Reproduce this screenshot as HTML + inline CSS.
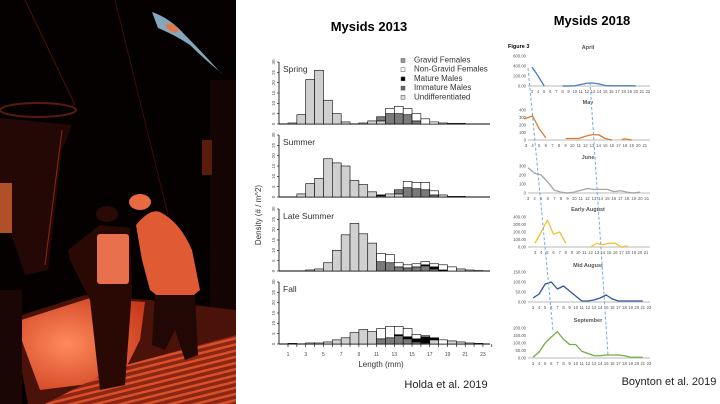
<!DOCTYPE html>
<html><head><meta charset="utf-8"><style>
html,body{margin:0;padding:0;background:#fff;}
svg{display:block;font-family:"Liberation Sans",sans-serif;}
</style></head><body>
<svg id="s" width="720" height="404" viewBox="0 0 720 404" xmlns="http://www.w3.org/2000/svg">
<defs>
<pattern id="grate" width="6" height="6" patternUnits="userSpaceOnUse" patternTransform="rotate(-14)">
<rect width="6" height="6" fill="#8a2612"/><rect width="6" height="2.5" fill="#d8502a"/>
</pattern>
<radialGradient id="glow" cx="0.4" cy="0.5" r="0.7"><stop offset="0" stop-color="#ff8a5c"/><stop offset="1" stop-color="#c8381a"/></radialGradient>
</defs>
<!-- photo -->
<rect x="0" y="0" width="236" height="404" fill="#050101"/>
<line x1="25" y1="0" x2="75" y2="105" stroke="#4a1208" stroke-width="1"/>
<line x1="115" y1="0" x2="168" y2="215" stroke="#3a0e06" stroke-width="1"/>
<rect x="210" y="80" width="26" height="260" fill="#140403"/>
<rect x="202" y="140" width="10" height="35" fill="#5a1a0c"/>
<ellipse cx="38" cy="110" rx="38" ry="7" fill="none" stroke="#5a1a0c" stroke-width="2"/>
<polygon points="0,118 72,125 62,150 48,270 25,275 0,200" fill="#240805"/>
<line x1="62" y1="130" x2="45" y2="265" stroke="#8a2a12" stroke-width="1"/>
<rect x="0" y="183" width="12" height="50" fill="#b05028"/>
<polygon points="12,318 85,295 150,300 236,310 236,404 28,404" fill="#4a1208"/>
<polygon points="15,322 90,298 145,302 140,340 120,380 40,390" fill="url(#glow)"/>
<polygon points="45,404 115,368 236,335 236,404" fill="url(#grate)"/>
<rect x="0" y="290" width="22" height="114" fill="#1a0604"/>
<!-- person 1 -->
<polygon points="68,250 100,225 130,228 132,290 125,385 100,390 90,300 70,260" fill="#2a0905"/>
<rect x="97" y="234" width="32" height="50" fill="#e8704c" rx="3"/>
<ellipse cx="107" cy="214" rx="11" ry="8" fill="#2a0a06"/>
<!-- person 2 -->
<path d="M136,225 Q150,208 160,212 Q180,222 192,250 L200,290 L190,298 L160,298 L150,290 L142,260 Z" fill="#e05a34"/>
<polygon points="155,295 195,295 198,355 185,360 175,330 165,350 152,345" fill="#220805"/>
<ellipse cx="140" cy="202" rx="11" ry="8" fill="#e86a40"/>
<!-- shrimp -->
<path d="M152,12 Q170,18 185,35 Q200,50 220,72 L224,75 Q205,60 190,45 Q175,35 158,28 Z" fill="#9cc4de" opacity="0.85"/>
<ellipse cx="172" cy="28" rx="7" ry="3.5" fill="#e07a4a" transform="rotate(30 172 28)"/>

<!-- titles -->
<text x="369" y="31" font-size="13" font-weight="bold" text-anchor="middle" fill="#000">Mysids 2013</text>
<text x="592" y="25" font-size="13" font-weight="bold" text-anchor="middle" fill="#000">Mysids 2018</text>
<text x="446" y="388" font-size="11" text-anchor="middle" fill="#222">Holda et al. 2019</text>
<text x="669" y="385" font-size="11" text-anchor="middle" fill="#222">Boynton et al. 2019</text>

<text transform="translate(261,215) rotate(-90)" font-size="8" text-anchor="middle" fill="#333">Density  (# / m^2)</text>
<text x="381" y="367" font-size="8" text-anchor="middle" fill="#333">Length (mm)</text>
<g id="hist"></g>
<g id="lines"></g>
</svg>
<script>
var NS="http://www.w3.org/2000/svg";
function el(p,t,a,txt){var e=document.createElementNS(NS,t);for(var k in a)e.setAttribute(k,a[k]);if(txt!==undefined)e.textContent=txt;p.appendChild(e);return e;}
var H=document.getElementById('hist');
var X0=288,W=8.86;function xm(m){return X0+(m-1)*W;}
var ppu=62/30;
var panels=[
{n:"Spring",b:124,d:{1:[0.5],2:[4.5],3:[21.5],4:[26],5:[11.5],6:[5],7:[1],9:[0.5],10:[1.5],11:[1.5,2,0,0],12:[0,5,0,2.5],13:[0,5,0,3.5],14:[0,4.5,0,3],15:[0,1.5,0,3.5],16:[0,0,0,2.5],17:[0,0,0,1],18:[0.5],19:[0.3],20:[0.3]}},
{n:"Summer",b:197,d:{2:[1.5],3:[6.5],4:[9],5:[18.5],6:[16.5],7:[15],8:[8],9:[6],10:[2.5],11:[0.5,0,0.5,0],12:[1.5],13:[1.5,2,0,0],14:[0,4.5,0,3],15:[0,4,0,3],16:[0,3.5,0,3.5],17:[0,1,0,2],18:[1],19:[0.3],20:[0.3]}},
{n:"Late Summer",b:271,d:{3:[0.5],4:[1],5:[4],6:[10],7:[17.5],8:[23],9:[18],10:[13.5],11:[0,4.5,0,4],12:[0,4,0,4],13:[0,2,0,2],14:[0,1.5,0,1.5],15:[0,2,0,1.5],16:[0,2.5,0.5,1.5],17:[0,1,1,1.5],18:[0,0,0.5,2.5],19:[0,0,0,2],20:[1],21:[0.5],22:[0.2]}},
{n:"Fall",b:344,d:{1:[0.3],3:[0.5],4:[0.5],5:[1],6:[2],7:[3],8:[5.5],9:[7],10:[6],11:[0,2.5,0,5],12:[0,3,0,5.5],13:[0,4,0.5,4],14:[0,2.5,1,4],15:[0,1,1.5,2],16:[0,0.5,3,0.5],17:[2,0,1,0],18:[0,0,0,2],19:[1.5],20:[1],21:[0.5],22:[0.3]}}
];
var cols=["#d0d0d0","#7a7a7a","#000","#fff"];
panels.forEach(function(p){
  el(H,'line',{x1:279,y1:p.b,x2:490,y2:p.b,stroke:"#000","stroke-width":1});
  el(H,'line',{x1:279,y1:p.b,x2:279,y2:p.b-62,stroke:"#000","stroke-width":0.8});
  for(var v=0;v<=30;v+=5){var y=p.b-v*ppu;el(H,'line',{x1:277,y1:y,x2:279,y2:y,stroke:"#000","stroke-width":0.6});
    el(H,'text',{transform:"translate(275,"+y+") rotate(-90)","font-size":4.5,"text-anchor":"middle",fill:"#555"},v);}
  el(H,'text',{x:283,y:p.b-52,"font-size":8.5,fill:"#333"},p.n);
  for(var k in p.d){var s=p.d[k],y=p.b;for(var i=0;i<s.length;i++){if(!s[i])continue;var h=s[i]*ppu;y-=h;
    el(H,'rect',{x:xm(+k),y:y,width:W,height:h,fill:cols[i],stroke:"#000","stroke-width":0.6});}}
});
for(var m=1;m<=24;m++){el(H,'line',{x1:xm(m),y1:344,x2:xm(m),y2:347,stroke:"#000","stroke-width":0.6});}
for(var m=1;m<=23;m+=2)el(H,'text',{x:xm(m),y:356,"font-size":5,"text-anchor":"middle",fill:"#444"},m);
var lg=["Gravid Females","Non-Gravid Females","Mature Males","Immature Males","Undifferentiated"],lc=["#999","#fff","#000","#666","#ddd"];
lg.forEach(function(t,i){var y=62+i*9.2;el(H,'rect',{x:401,y:y-3.5,width:4,height:4,fill:lc[i],stroke:"#555","stroke-width":0.5});
 el(H,'text',{x:414,y:y+0.5,"font-size":8,fill:"#333"},t);});
var L=document.getElementById('lines');
el(L,'text',{x:508,y:48,"font-size":5.5,"font-weight":"bold",fill:"#000"},"Figure 3");
var charts=[
{t:"April",ty:49,b:86,x3:532,dx:6.1,top:600,tpx:30,ticks:[0,200,400,600],lab:["0.00","200.00","400.00","600.00"],c:"#4a7ebb",
 segs:[[[3,380],[4,200],[5,0]],[[8,0],[9,0],[10,5],[11,30],[12,55],[13,60],[14,40],[15,10],[16,5],[17,5],[18,5],[19,5],[20,5]]]},
{t:"May",ty:104,b:140,x3:526,dx:6.6,top:400,tpx:30,ticks:[0,100,200,300,400],lab:["0","100","200","300","400"],c:"#e0782e",
 segs:[[[2.7,280],[4,320],[5,150],[6,30]],[[9,20],[10,20],[11,20],[12,50],[13,70],[14,70],[15,20],[16,0]],[[17.5,5],[18,15],[19,0]]]},
{t:"June",ty:159,b:193,x3:528,dx:6.6,top:300,tpx:27,ticks:[0,100,200,300],lab:["0","100","200","300"],c:"#a5a5a5",
 segs:[[[3,280],[4,220],[5,200],[6,120],[7,30],[8,10],[9,0],[10,10],[11,30],[12,50],[13,40],[14,40],[15,40],[16,15],[17,25],[18,10],[19,0],[20,10]]]},
{t:"Early August",ty:211,b:247,x3:535,dx:6.17,top:400,tpx:30,ticks:[0,100,200,300,400],lab:["0.00","100.00","200.00","300.00","400.00"],c:"#f2c12e",
 segs:[[[3,50],[4,200],[5,360],[6,170],[7,200],[8,50]],[[12,0],[13,50],[14,30],[15,50],[16,50],[17,0],[18,15]]]},
{t:"Mid August",ty:267,b:302,x3:533,dx:6.1,top:150,tpx:30,ticks:[0,50,100,150],lab:["0.00","50.00","100.00","150.00"],c:"#2f5597",
 segs:[[[3,20],[4,40],[5,90],[6,100],[7,65],[8,80],[9,55],[10,30],[11,5],[12,5],[13,10],[14,20],[15,35],[16,15],[17,5],[18,5],[19,5],[20,5],[21,5]]]},
{t:"September",ty:322,b:358,x3:533,dx:6.1,top:200,tpx:30,ticks:[0,50,100,150,200],lab:["0.00","50.00","100.00","150.00","200.00"],c:"#70ad47",
 segs:[[[3,5],[4,40],[5,100],[6,140],[7,175],[8,125],[9,90],[10,90],[11,45],[12,30],[13,15],[14,15],[15,20],[16,20],[17,20],[18,15],[19,5],[20,5],[21,5]]]}
];
charts.forEach(function(c){
  el(L,'text',{x:588,y:c.ty,"font-size":5.5,"font-weight":"bold","text-anchor":"middle",fill:"#555"},c.t);
  el(L,'line',{x1:528,y1:c.b,x2:650,y2:c.b,stroke:"#d0d0d0","stroke-width":1.5});
  c.ticks.forEach(function(v,i){el(L,'text',{x:526,y:c.b-v/c.top*c.tpx+1.5,"font-size":4.2,"text-anchor":"end",fill:"#555"},c.lab[i]);});
  for(var n=3;n<=22;n++){var x=c.x3+(n-3)*c.dx;if(x>650)break;el(L,'text',{x:x,y:c.b+7,"font-size":4.2,"text-anchor":"middle",fill:"#555"},n);}
  c.segs.forEach(function(sg){var pts=sg.map(function(q){return (c.x3+(q[0]-3)*c.dx)+","+(c.b-q[1]/c.top*c.tpx);}).join(" ");
    el(L,'polyline',{points:pts,fill:"none",stroke:c.c,"stroke-width":1.3,"stroke-linejoin":"round"});});
});
el(L,'line',{x1:528,y1:68,x2:553,y2:331,stroke:"#7aaad8","stroke-width":1,"stroke-dasharray":"3,2"});
el(L,'line',{x1:590,y1:82,x2:608,y2:355,stroke:"#7aaad8","stroke-width":1,"stroke-dasharray":"3,2"});
</script>
</body></html>
